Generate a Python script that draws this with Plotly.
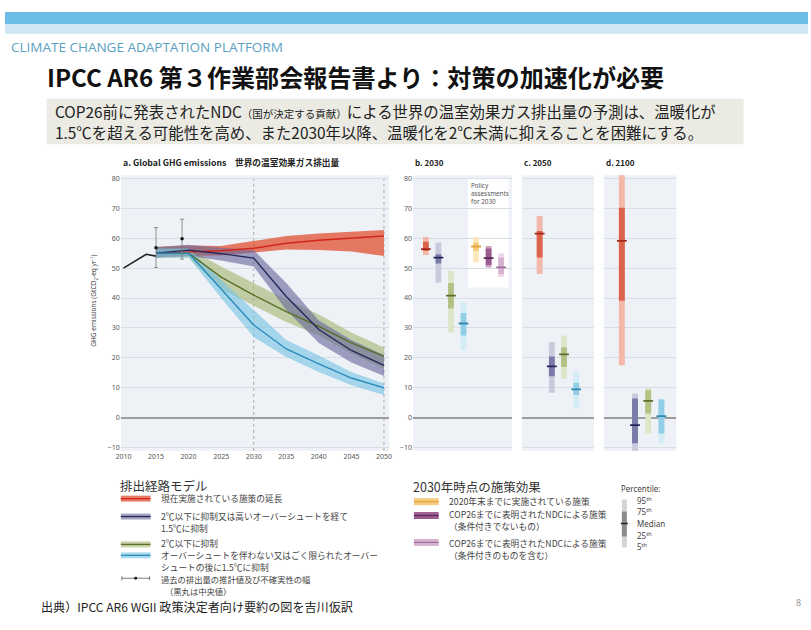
import plotly.graph_objects as go

W, H = 811, 630


def px(x):
    return x / W


def py(y):
    return 1 - y / H


# ---------------- data ----------------
years = [2015, 2020, 2025, 2030, 2035, 2040, 2045, 2050]

red_med = [55.0, 55.5, 55.8, 56.6, 58.3, 59.3, 60.0, 60.7]
red_hi = [57.0, 57.5, 57.4, 59.0, 60.7, 61.5, 62.0, 62.7]
red_lo = [53.5, 54.0, 54.2, 55.2, 56.2, 56.0, 55.5, 54.0]

navy_med = [55.0, 56.0, 54.8, 53.3, 40.5, 29.5, 22.5, 17.5]
navy_hi = [57.0, 57.8, 56.8, 56.0, 45.0, 32.5, 26.0, 21.0]
navy_lo = [53.5, 54.0, 52.5, 50.5, 36.0, 25.0, 18.5, 14.0]

green_med = [55.0, 55.0, 47.0, 41.0, 35.5, 30.5, 25.0, 20.5]
green_hi = [57.0, 56.5, 50.5, 45.0, 39.5, 34.5, 28.5, 23.5]
green_lo = [53.5, 53.5, 43.0, 37.5, 32.0, 27.5, 21.5, 16.5]

blue_med = [55.0, 55.0, 43.0, 31.0, 23.0, 18.0, 13.3, 10.0]
blue_hi = [56.5, 56.5, 46.0, 36.0, 26.0, 20.8, 15.3, 11.5]
blue_lo = [53.5, 53.5, 40.0, 27.0, 20.3, 15.3, 10.9, 7.6]

hist_years = [2010, 2013.5, 2015, 2019]
hist_vals = [50.0, 54.6, 54.0, 55.5]
hist_pt_years = [2015, 2019]
hist_pt_vals = [56.8, 59.8]
hist_pt_up = [63.5, 66.3]
hist_pt_low = [50.2, 53.0]

# 2030 percentiles (panel b)
cats_2030 = ["現在施策", "高OS1.5℃", "2℃", "1.5℃", "2020施策", "NDC無条件", "NDC条件付"]
b_p5 = [54.4, 45.2, 28.5, 22.5, 51.9, 50.2, 47.1]
b_p25 = [55.7, 51.5, 36.5, 27.5, 55.7, 51.0, 48.0]
b_med = [56.3, 53.5, 40.8, 31.5, 57.2, 53.3, 50.2]
b_p75 = [58.8, 54.6, 45.0, 35.0, 58.5, 56.5, 53.5]
b_p95 = [60.4, 58.5, 49.0, 38.6, 60.4, 57.4, 54.9]

# 2050 percentiles (panel c)
cats_2050 = ["現在施策", "高OS1.5℃", "2℃", "1.5℃"]
c_p5 = [48.0, 8.4, 13.1, 3.1]
c_p25 = [53.5, 13.9, 17.0, 7.6]
c_med = [61.5, 17.2, 21.2, 9.5]
c_p75 = [62.4, 20.5, 23.6, 11.7]
c_p95 = [67.4, 25.3, 27.5, 15.6]

# 2100 percentiles (panel d)
cats_2100 = ["現在施策", "高OS1.5℃", "2℃", "1.5℃"]
d_p5 = [17.6, -11.5, -5.2, -8.5]
d_p25 = [39.1, -8.5, 1.5, -5.2]
d_med = [59.1, -2.4, 5.7, 0.6]
d_p75 = [70.1, 6.5, 9.2, 6.1]
d_p95 = [85.0, 8.1, 10.0, 6.5]

y_ticks = [-10, 0, 10, 20, 30, 40, 50, 60, 70, 80]
x_ticks = [2010, 2015, 2020, 2025, 2030, 2035, 2040, 2045, 2050]

# ---------------- styles ----------------
C = {
    "red": dict(line="#d2261b", band="rgba(226,86,58,0.78)", light="#f3b8a9", dark="#dc634c", med="#a3291b"),
    "navy": dict(line="#24285a", band="rgba(105,105,155,0.62)", light="#cacadd", dark="#7b7baa", med="#23255a"),
    "green": dict(line="#5b6d2b", band="rgba(160,180,105,0.58)", light="#dfe5c9", dark="#b2c184", med="#5e6f2c"),
    "blue": dict(line="#2a8cbc", band="rgba(118,195,228,0.62)", light="#d3ecf6", dark="#92cee6", med="#2e88b2"),
    "yellow": dict(light="#fbe6bc", dark="#f6cd80", med="#e2a33a"),
    "purple": dict(light="#c9a3bf", dark="#9b5c90", med="#5d2555"),
    "pink": dict(light="#ecd5e8", dark="#d6b2d0", med="#9d6e97"),
}
order_b = ["red", "navy", "green", "blue", "yellow", "purple", "pink"]
order_cd = ["red", "navy", "green", "blue"]

JP = "Noto Sans CJK JP"
PLOT_BG = "#eef2f7"
GRID = "#d8dee6"

fig = go.Figure()

# ---------- panel a ----------
fig.add_trace(go.Scatter(x=hist_years, y=hist_vals, mode="lines",
                         line=dict(color="#222", width=1.6), xaxis="x", yaxis="y", hoverinfo="skip"))

series = [("red", red_med, red_hi, red_lo), ("green", green_med, green_hi, green_lo),
          ("navy", navy_med, navy_hi, navy_lo), ("blue", blue_med, blue_hi, blue_lo)]
for key, med, hi, lo in series:
    fig.add_trace(go.Scatter(x=years + years[::-1], y=hi + lo[::-1], fill="toself",
                             fillcolor=C[key]["band"], line=dict(width=0), mode="lines",
                             xaxis="x", yaxis="y", hoverinfo="skip"))
for key, med, hi, lo in series:
    fig.add_trace(go.Scatter(x=years, y=med, mode="lines", line=dict(color=C[key]["line"], width=1.4),
                             xaxis="x", yaxis="y", hoverinfo="skip"))

fig.add_trace(go.Scatter(
    x=hist_pt_years, y=hist_pt_vals, mode="markers",
    marker=dict(color="#111", size=3.5),
    error_y=dict(type="data", symmetric=False,
                 array=[u - v for u, v in zip(hist_pt_up, hist_pt_vals)],
                 arrayminus=[v - l for v, l in zip(hist_pt_vals, hist_pt_low)],
                 color="#777", thickness=0.8, width=2),
    xaxis="x", yaxis="y", hoverinfo="skip"))


def add_pct(cats, p5, p25, med, p75, p95, keys, xa, ya, width):
    fig.add_trace(go.Bar(x=cats, y=[b - a for a, b in zip(p5, p95)], base=p5, width=width,
                         marker=dict(color=[C[k]["light"] for k in keys], line=dict(width=0)),
                         xaxis=xa, yaxis=ya, hoverinfo="skip"))
    fig.add_trace(go.Bar(x=cats, y=[b - a for a, b in zip(p25, p75)], base=p25, width=width,
                         marker=dict(color=[C[k]["dark"] for k in keys], line=dict(width=0)),
                         xaxis=xa, yaxis=ya, hoverinfo="skip"))
    fig.add_trace(go.Scatter(x=cats, y=med, mode="markers",
                             marker=dict(symbol="line-ew", size=7,
                                         line=dict(width=1.8, color=[C[k]["med"] for k in keys])),
                             xaxis=xa, yaxis=ya, hoverinfo="skip"))


add_pct(cats_2030, b_p5, b_p25, b_med, b_p75, b_p95, order_b, "x2", "y2", 0.46)
add_pct(cats_2050, c_p5, c_p25, c_med, c_p75, c_p95, order_cd, "x3", "y3", 0.48)
add_pct(cats_2100, d_p5, d_p25, d_med, d_p75, d_p95, order_cd, "x4", "y4", 0.45)

# ---------- axes ----------
YD = [py(451), py(174)]
yax = dict(range=[-11, 81], tickvals=y_ticks, showgrid=True, gridcolor=GRID, gridwidth=1,
           zeroline=True, zerolinecolor="#9c9c9c", zerolinewidth=2, showline=False, ticks="",
           tickfont=dict(size=7, color="#555", family="Noto Sans"), domain=YD, fixedrange=True)

layout = dict(
    width=W, height=H, margin=dict(l=0, r=0, t=0, b=0),
    paper_bgcolor="white", plot_bgcolor=PLOT_BG, showlegend=False, barmode="overlay",
    font=dict(family=f"Noto Sans, {JP}", color="#333"),
    xaxis=dict(domain=[px(117), px(388)], range=[2009.6, 2050.8], tickvals=x_ticks, showgrid=False,
               zeroline=False, ticks="", tickfont=dict(size=7, color="#555"), anchor="y"),
    yaxis=dict(yax, anchor="x"),
    xaxis2=dict(domain=[px(412), px(512)], type="category", range=[-1.03, 6.86], showticklabels=False,
                showgrid=False, zeroline=False, ticks="", anchor="y2"),
    yaxis2=dict(yax, anchor="x2"),
    xaxis3=dict(domain=[px(522), px(595)], type="category", range=[-1.46, 4.47], showticklabels=False,
                showgrid=False, zeroline=False, ticks="", anchor="y3"),
    yaxis3=dict(yax, anchor="x3", showticklabels=False),
    xaxis4=dict(domain=[px(605), px(678)], type="category", range=[-1.35, 4.13], showticklabels=False,
                showgrid=False, zeroline=False, ticks="", anchor="y4"),
    yaxis4=dict(yax, anchor="x4", showticklabels=False),
)
fig.update_layout(**layout)

shapes = []
# header bands
shapes.append(dict(type="rect", xref="paper", yref="paper", x0=0, x1=1, y0=py(22), y1=py(10),
                   fillcolor="#6cbde7", line=dict(width=0), layer="below"))
shapes.append(dict(type="rect", xref="paper", yref="paper", x0=0, x1=1, y0=py(32), y1=py(22),
                   fillcolor="#cfe7f5", line=dict(width=0), layer="below"))
# subtitle box
shapes.append(dict(type="rect", xref="paper", yref="paper", x0=px(42), x1=px(746), y0=py(143), y1=py(97),
                   fillcolor="#ebebe4", line=dict(width=0), layer="below"))
# dotted verticals in panel a
for xv in (2030, 2050):
    shapes.append(dict(type="line", xref="x", yref="paper", x0=xv, x1=xv, y0=YD[0], y1=YD[1],
                       line=dict(color="#a8a8a8", width=1, dash="dot"), layer="below"))
# policy assessment box
shapes.append(dict(type="rect", xref="x2", yref="y2", x0=3.35, x1=6.6, y0=43.5, y1=80,
                   fillcolor="white", line=dict(width=0), layer="below"))

# legend 1 swatches
leg1 = [("red", 499), ("navy", 517), ("green", 545), ("blue", 556)]
for key, yc in leg1:
    shapes.append(dict(type="rect", xref="paper", yref="paper", x0=px(117), x1=px(147),
                       y0=py(yc + 3), y1=py(yc - 3), fillcolor=C[key]["band"], line=dict(width=0)))
    shapes.append(dict(type="line", xref="paper", yref="paper", x0=px(117), x1=px(147),
                       y0=py(yc), y1=py(yc), line=dict(color=C[key]["line"], width=1.3)))
# historical swatch
yh = 579
shapes.append(dict(type="line", xref="paper", yref="paper", x0=px(118), x1=px(146), y0=py(yh), y1=py(yh),
                   line=dict(color="#555", width=0.8)))
for xc in (118, 146):
    shapes.append(dict(type="line", xref="paper", yref="paper", x0=px(xc), x1=px(xc), y0=py(yh - 2),
                       y1=py(yh + 2), line=dict(color="#555", width=0.8)))
shapes.append(dict(type="circle", xref="paper", yref="paper", x0=px(130.5), x1=px(133.5), y0=py(yh + 1.5),
                   y1=py(yh - 1.5), fillcolor="#111", line=dict(width=0)))

# legend 2 swatches
leg2 = [("yellow", 502), ("purple", 516), ("pink", 543)]
for key, yc in leg2:
    shapes.append(dict(type="rect", xref="paper", yref="paper", x0=px(413), x1=px(438),
                       y0=py(yc + 3.5), y1=py(yc - 3.5), fillcolor=C[key]["dark"], line=dict(width=0)))
    shapes.append(dict(type="line", xref="paper", yref="paper", x0=px(413), x1=px(438),
                       y0=py(yc), y1=py(yc), line=dict(color=C[key]["med"], width=1.2)))
# percentile legend
shapes.append(dict(type="rect", xref="paper", yref="paper", x0=px(623), x1=px(628), y0=py(548), y1=py(500),
                   fillcolor="#d4d4d4", line=dict(width=0)))
shapes.append(dict(type="rect", xref="paper", yref="paper", x0=px(623), x1=px(628), y0=py(537), y1=py(512),
                   fillcolor="#8c8c8c", line=dict(width=0)))
shapes.append(dict(type="line", xref="paper", yref="paper", x0=px(622), x1=px(629), y0=py(524), y1=py(524),
                   line=dict(color="#222", width=1.5)))

fig.update_layout(shapes=shapes)

ann = []


def T(x, y, text, size, color="#333", bold=False, family=None, xanchor="left", yanchor="middle", **kw):
    t = f"<b>{text}</b>" if bold else text
    d = dict(xref="paper", yref="paper", x=px(x), y=py(y), text=t, showarrow=False,
             xanchor=xanchor, yanchor=yanchor, font=dict(size=size, color=color, family=family or JP))
    d.update(kw)
    ann.append(d)


T(4, 45, "CLIMATE CHANGE ADAPTATION PLATFORM", 13.5, color="#5a9fc2", family="Open Sans")
T(40, 75, "IPCC AR6 第３作業部会報告書より：対策の加速化が必要", 24.1, color="#111", bold=True)
T(48, 110, "COP26前に発表されたNDC<span style='font-size:10.5px'>（国が決定する貢献）</span>による世界の温室効果ガス排出量の予測は、温暖化が",
  15.4, color="#222")
T(48, 131, "1.5℃を超える可能性を高め、また2030年以降、温暖化を2℃未満に抑えることを困難にする。", 15.4, color="#222")

T(117, 161, "a. Global GHG emissions　世界の温室効果ガス排出量", 8.7, color="#222", bold=True)
T(412, 161, "b. 2030", 8, color="#222", bold=True)
T(522, 161, "c. 2050", 8, color="#222", bold=True)
T(605, 161, "d. 2100", 8, color="#222", bold=True)
T(89, 300, "GHG emissions (GtCO<sub>2</sub>-eq yr<sup>-1</sup>)", 6.5, color="#444", family="Noto Sans",
  xanchor="center", textangle=-90)
T(469, 192, "Policy<br>assessments<br>for 2030", 6.3, color="#555", family="Noto Sans", yanchor="middle",
  align="left")

# legend 1 texts
T(114, 486, "排出経路モデル", 12.5, color="#333")
T(156, 499, "現在実施されている施策の延長", 8.7, color="#444")
T(156, 517, "2℃以下に抑制又は高いオーバーシュートを経て", 8.7, color="#444")
T(156, 529, "1.5℃に抑制", 8.7, color="#444")
T(156, 544, "2℃以下に抑制", 8.7, color="#444")
T(156, 556, "オーバーシュートを伴わない又はごく限られたオーバー", 8.7, color="#444")
T(156, 568, "シュートの後に1.5℃に抑制", 8.7, color="#444")
T(156, 580, "過去の排出量の推計値及び不確実性の幅", 8.3, color="#444")
T(160, 592, "（黒丸は中央値）", 8.3, color="#444")

# legend 2 texts
T(410, 487, "2030年時点の施策効果", 12.5, color="#333")
T(446, 502, "2020年末までに実施されている施策", 8.7, color="#444")
T(446, 515, "COP26までに表明されたNDCによる施策", 8.7, color="#444")
T(446, 527, "（条件付きでないもの）", 8.7, color="#444")
T(446, 544, "COP26までに表明されたNDCによる施策", 8.7, color="#444")
T(446, 556, "（条件付きのものを含む）", 8.7, color="#444")

# percentile legend
T(620, 489, "Percentile:", 8, color="#444", family="Noto Sans")
T(636, 501, "95<sup>th</sup>", 8, color="#444", family="Noto Sans")
T(636, 512, "75<sup>th</sup>", 8, color="#444", family="Noto Sans")
T(636, 524, "Median", 8, color="#444", family="Noto Sans")
T(636, 536, "25<sup>th</sup>", 8, color="#444", family="Noto Sans")
T(636, 547, "5<sup>th</sup>", 8, color="#444", family="Noto Sans")

T(34, 607, "出典）IPCC AR6 WGII 政策決定者向け要約の図を吉川仮訳", 12.1, color="#222")
T(806, 603, "8", 9, color="#999", family="Noto Sans", xanchor="right")

fig.update_layout(annotations=ann)
fig.write_html("out.html")
